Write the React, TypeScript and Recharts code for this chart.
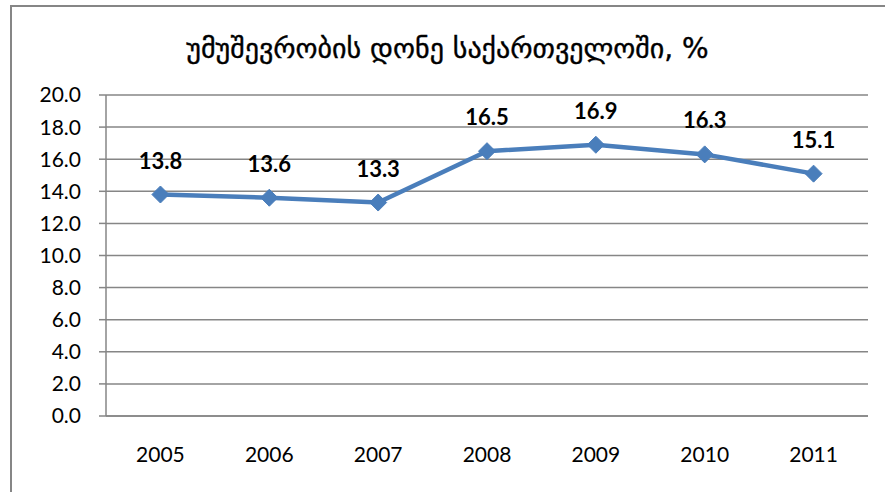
import { LineChart, Line, XAxis, YAxis, CartesianGrid, LabelList } from "recharts";

const YEARS = ["2005", "2006", "2007", "2008", "2009", "2010", "2011"];
const RATE = [13.8, 13.6, 13.3, 16.5, 16.9, 16.3, 15.1];
const Y_TICKS = [0, 2, 4, 6, 8, 10, 12, 14, 16, 18, 20];
const BOUNDARY_TICKS = [0, 1, 2, 3, 4, 5, 6, 7];
const TITLE = "უმუშევრობის დონე საქართველოში, %";

const BLUE = "#4a7ebb";
const GRAY = "#868686";
const FONT = "Lato, 'Open Sans', sans-serif";

const data = YEARS.map((year, i) => ({ year, rate: RATE[i] }));

function Diamond(props: any) {
  const { cx, cy } = props;
  if (cx == null || cy == null) return null;
  const r = 8.5;
  return (
    <polygon
      points={`${cx},${cy - r} ${cx + r},${cy} ${cx},${cy + r} ${cx - r},${cy}`}
      fill={BLUE}
      stroke={BLUE}
    />
  );
}

export default function App() {
  const plotW = 885 - 106 - 17;
  const pad = plotW / YEARS.length / 2;
  return (
    <div style={{ position: "absolute", left: 0, top: 0, width: 885, height: 492, background: "#fff", overflow: "hidden" }}>
      <div
        style={{
          position: "absolute", left: 10, top: 5, width: 900, height: 500,
          borderLeft: `2px solid ${GRAY}`, borderTop: `2px solid ${GRAY}`,
        }}
      />
      <div
        style={{
          position: "absolute", left: 10, width: 875, top: 30, textAlign: "center",
          fontFamily: "'DejaVu Sans', sans-serif", fontSize: 28, color: "#000", lineHeight: "38px",
          WebkitTextStroke: "0.4px #000",
        }}
      >
        {TITLE}
      </div>
      <div style={{ position: "absolute", left: 0, top: 0 }}>
        <LineChart width={885} height={492} data={data} margin={{ top: 95, right: 17, bottom: 0, left: 0 }}>
          <CartesianGrid vertical={false} stroke={GRAY} strokeWidth={1.5} />
          <XAxis
            xAxisId="ticks" type="number" domain={[0, 7]} ticks={BOUNDARY_TICKS} height={0}
            axisLine={false} tickLine={{ stroke: GRAY, strokeWidth: 1.5 }} tickSize={7}
            tickFormatter={() => ""} allowDataOverflow
          />
          <XAxis
            dataKey="year" height={76} padding={{ left: pad, right: pad }}
            axisLine={{ stroke: GRAY, strokeWidth: 1.5 }} tickLine={false} tickSize={0} tickMargin={31}
            tick={{ fill: "#000", fontSize: 21, fontFamily: FONT }}
          />
          <YAxis
            width={106} domain={[0, 20]} ticks={Y_TICKS} tickFormatter={(v: number) => v.toFixed(1)}
            axisLine={{ stroke: GRAY, strokeWidth: 1.5 }} tickLine={{ stroke: GRAY, strokeWidth: 1.5 }}
            tickSize={7} tickMargin={18} interval={0}
            tick={{ fill: "#000", fontSize: 21, fontFamily: FONT }}
          />
          <Line
            dataKey="rate" stroke={BLUE} strokeWidth={4.5} dot={<Diamond />} activeDot={false}
            isAnimationActive={false}
          >
            <LabelList
              dataKey="rate" position="top" offset={26}
              formatter={(v: number) => v.toFixed(1)}
              style={{ fill: "#000", fontSize: 22, fontWeight: 700, fontFamily: FONT }}
            />
          </Line>
        </LineChart>
      </div>
    </div>
  );
}
